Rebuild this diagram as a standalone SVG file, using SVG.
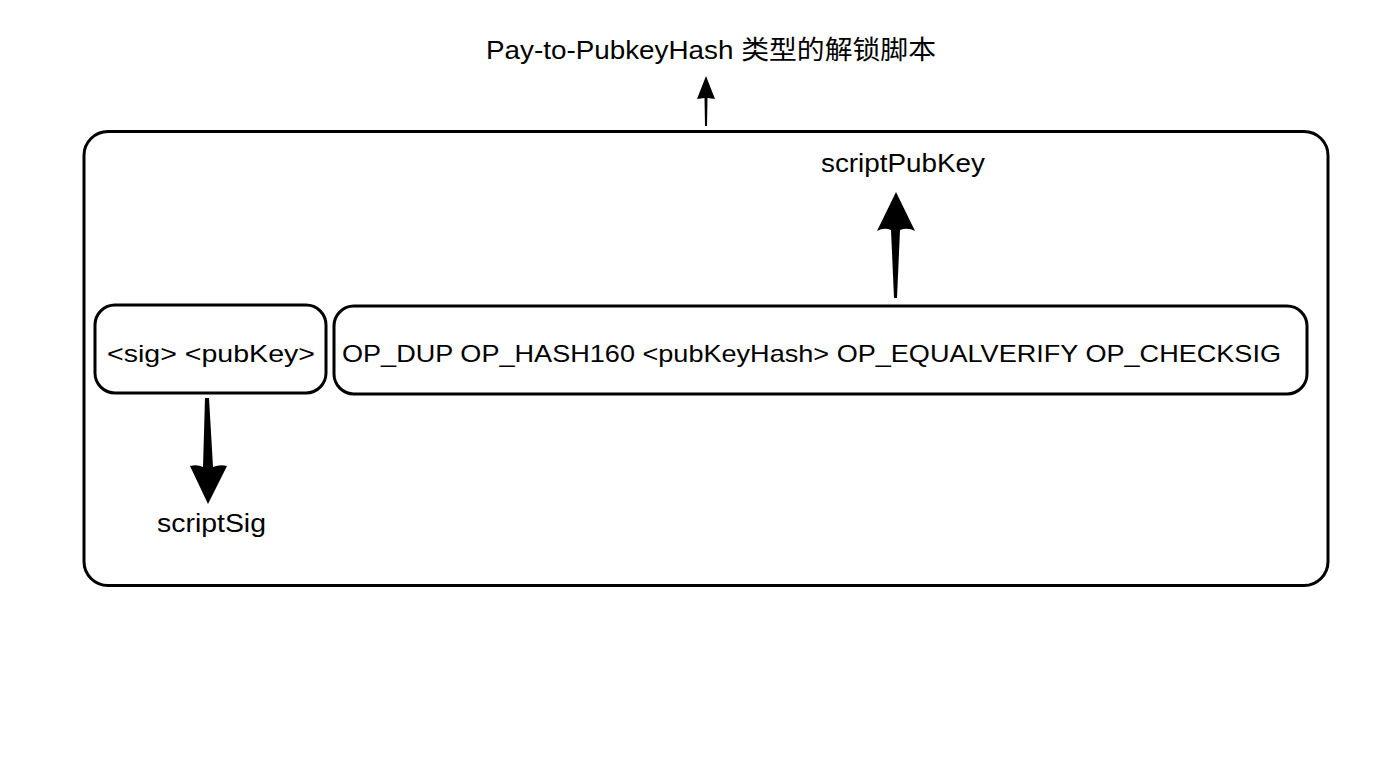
<svg xmlns="http://www.w3.org/2000/svg" width="1397" height="763" viewBox="0 0 1397 763">
<style>
.box{fill:#fff;stroke:#000;stroke-width:3}
.t{font-family:"Liberation Sans",Arial,"Noto Sans CJK SC",sans-serif;font-size:24px;fill:#000}
.l{font-size:26px}
.arr{fill:#000}
</style>
<rect width="1397" height="763" fill="#fff"/>
<g id="outer"><rect class="box" x="84" y="131.5" width="1244" height="454" rx="24"/></g>
<g id="title"><text class="t l" x="486" y="59" textLength="450" lengthAdjust="spacingAndGlyphs">Pay-to-PubkeyHash 类型的解锁脚本</text></g>
<g id="scriptSigNode"><rect class="box" x="95" y="305" width="231" height="88" rx="20"/>
<text class="t" x="107" y="362" textLength="208" lengthAdjust="spacingAndGlyphs">&lt;sig&gt; &lt;pubKey&gt;</text></g>
<g id="scriptPubKeyNode"><rect class="box" x="334" y="306" width="973" height="88" rx="20"/>
<text class="t" x="342" y="362" textLength="939" lengthAdjust="spacingAndGlyphs">OP_DUP OP_HASH160 &lt;pubKeyHash&gt; OP_EQUALVERIFY OP_CHECKSIG</text></g>
<g id="labelPub"><text class="t l" x="821" y="172" textLength="164" lengthAdjust="spacingAndGlyphs">scriptPubKey</text></g>
<g id="labelSig"><text class="t l" x="157" y="532" textLength="109" lengthAdjust="spacingAndGlyphs">scriptSig</text></g>
<g id="connectors">
<path class="arr" d="M705,126 L704.5,98 L697,99 L706,76 L715,99 L707.5,98 L707,126 Z"/>
<path class="arr" d="M894,298 L891,230 Q884,227 877,231 L896,192 L915,231 Q908,227 900,230 L897,298 Z"/>
<path class="arr" d="M205,398 L203,467 Q197,464 190,466 L208,504 L227,466 Q220,464 213,467 L209,398 Z"/>
</g>
</svg>
